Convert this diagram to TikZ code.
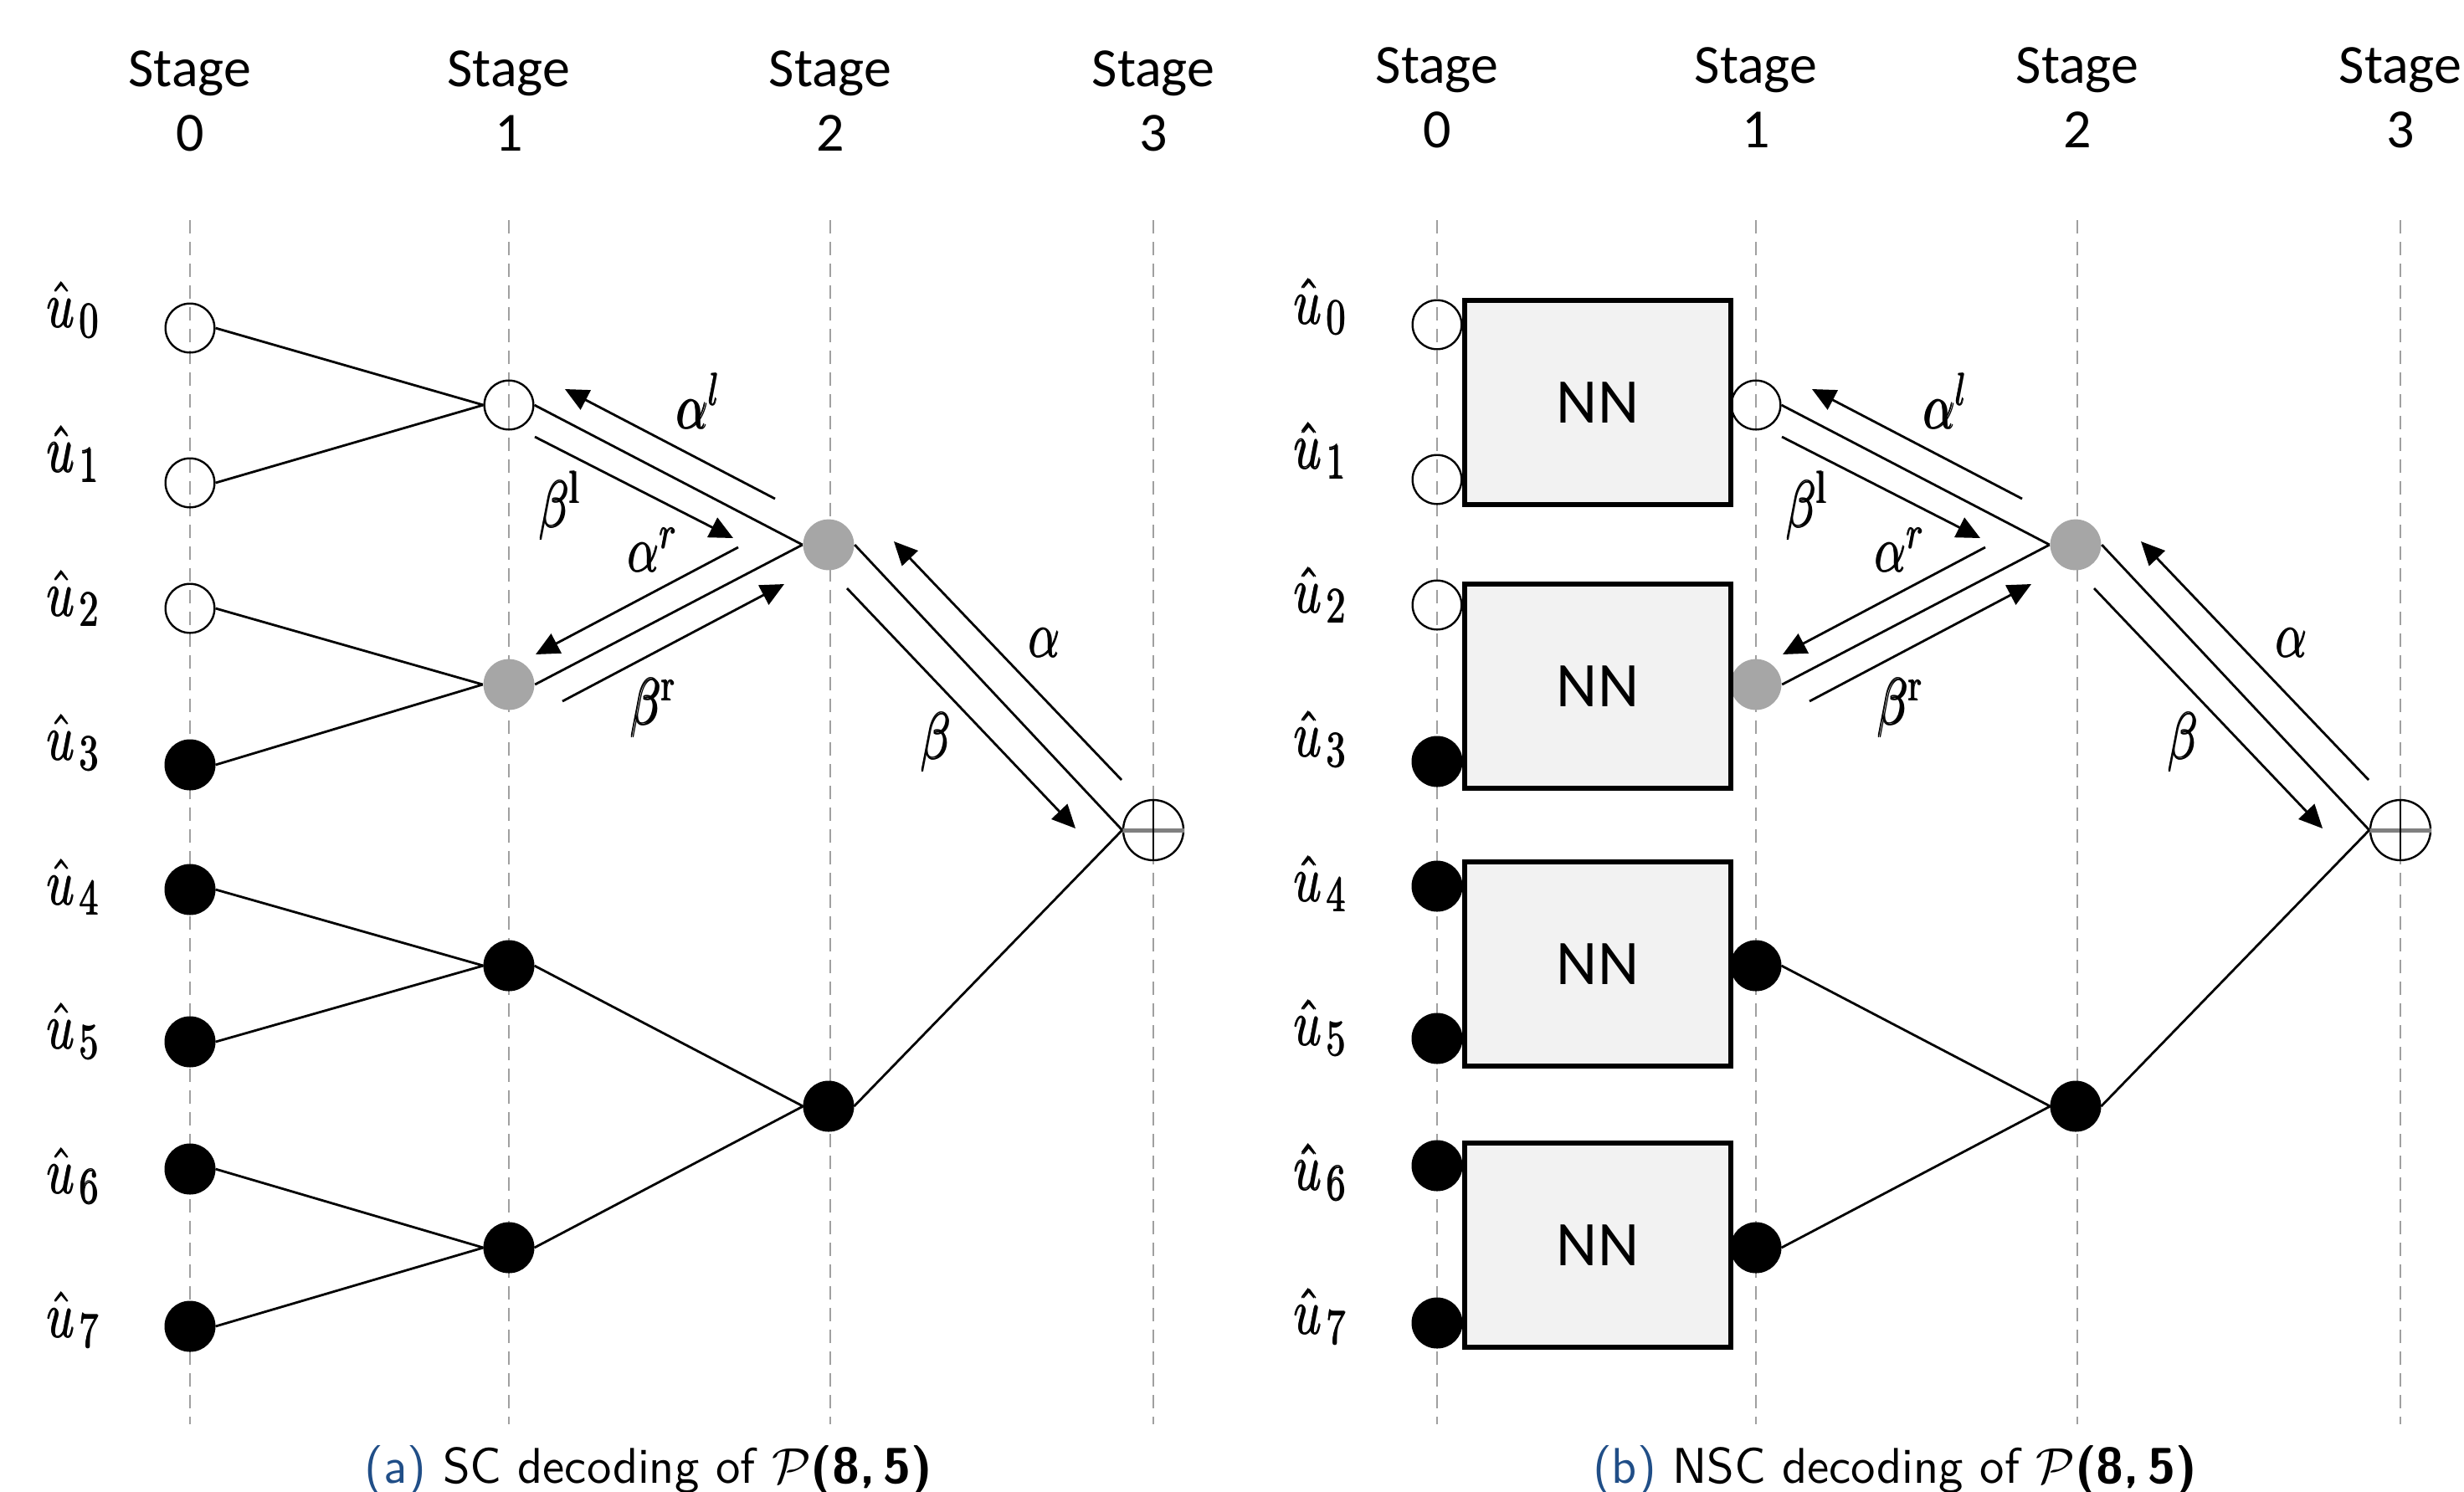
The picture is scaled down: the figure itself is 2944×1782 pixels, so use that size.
\RequirePackage{fix-cm}
\documentclass[tikz,border=0pt]{standalone}
\usepackage{fontspec}
\usepackage{graphicx}
\newfontfamily\stagefont{Carlito}
\usetikzlibrary{arrows.meta}
\definecolor{capblue}{RGB}{32,78,135}
\definecolor{nodegray}{RGB}{166,166,166}
\definecolor{dashgray}{RGB}{160,160,160}
\definecolor{boxfill}{RGB}{242,242,242}
\definecolor{opgray}{RGB}{128,128,128}
\tikzset{
  stageline/.style={draw=dashgray, line width=0.5pt, dash pattern=on 4pt off 2.5pt},
  stagetxt/.style={anchor=base, inner sep=0pt, font=\stagefont\fontsize{16.5}{20}\selectfont},
  ulab/.style={inner sep=0pt, font=\fontsize{15}{18}\selectfont},
  glab/.style={inner sep=0pt, font=\fontsize{15}{18}\selectfont},
  vnode/.style={circle, draw=black, line width=0.6pt, minimum size=14.65pt, inner sep=0pt},
  wnode/.style={vnode},
  bnode/.style={vnode, fill=black},
  gnode/.style={circle, fill=nodegray, minimum size=15.2pt, inner sep=0pt},
  edge/.style={draw=black, line width=0.7pt},
  msg/.style={draw=black, line width=0.7pt, -{Triangle[length=7pt,width=6.5pt]}},
  nnbox/.style={draw=black, fill=boxfill, line width=1.6pt, minimum width=79.5pt, minimum height=61pt, inner sep=0pt, font=\stagefont\fontsize{19}{22}\selectfont},
  opnode/.style={circle, draw=black, line width=0.6pt, minimum size=18pt, inner sep=0pt},
  capnode/.style={anchor=base, inner sep=0pt, font=\sffamily\fontsize{15}{18}\selectfont},
}
\newsavebox\fbbox
\newcommand\fb[1]{\sbox\fbbox{#1}\rlap{\usebox\fbbox}\rlap{\raisebox{0.3pt}{\usebox\fbbox}}\hspace{0.3pt}\usebox\fbbox}
\newcommand\ml[1]{\fb{\scalebox{1}[1.3]{$#1$}}}
\newcommand\sub[1]{\kern1.5pt\scalebox{1.1}{$\scriptstyle #1$}}
\newcommand\panel[1]{%
  \foreach \x in {227,608,992,1378} {\draw[stageline] (\x,263) -- (\x,1702);}
  \foreach \i/\x in {0/227,1/608,2/992,3/1378} {
    \node[stagetxt] (stage\i) at (\x,103#1) {Stage};
    \node[stagetxt] (num\i) at (\x,180#1) {\i};
  }
  \foreach \n in {0,...,7} {\node[ulab] (ul\n) at (88,{370+172.4*\n#1}) {\ml{\hat{u}_{\sub{\n}}}};}
  \foreach \n/\y/\s in {0/392/wnode,1/577/wnode,2/727/wnode,3/914/bnode,4/1063/bnode,5/1245/bnode,6/1397/bnode,7/1585/bnode}
    {\node[\s] (u\n) at (227,\y#1) {};}
  \node[wnode] (s1a) at (608,484) {};
  \node[gnode] (s1b) at (608,818) {};
  \node[bnode] (s1c) at (608,1154) {};
  \node[bnode] (s1d) at (608,1491) {};
  \node[gnode] (s2a) at (990,651) {};
  \node[bnode] (s2b) at (990,1322) {};
  \node[opnode] (op) at (1378,992) {};
  \draw[opgray, line width=1.25pt] (op.west) -- (op.east);
  \draw[black, line width=0.6pt] (op.north) -- (op.south);
  \draw[edge] (s1a.east) -- (s2a.west);
  \draw[edge] (s1b.east) -- (s2a.west);
  \draw[edge] (s1c.east) -- (s2b.west);
  \draw[edge] (s1d.east) -- (s2b.west);
  \draw[edge] (s2a.east) -- (op.west);
  \draw[edge] (s2b.east) -- (op.west);
  \coordinate (al1) at (926,596); \coordinate (al2) at (675,465);
  \coordinate (bl1) at (639,522); \coordinate (bl2) at (876,643);
  \coordinate (ar1) at (882,654); \coordinate (ar2) at (640,782);
  \coordinate (br1) at (672,838); \coordinate (br2) at (937,698);
  \coordinate (a1) at (1340,932); \coordinate (a2) at (1068,647);
  \coordinate (b1) at (1012,703); \coordinate (b2) at (1285,990);
  \draw[msg] (al1) -- (al2);
  \draw[msg] (bl1) -- (bl2);
  \draw[msg] (ar1) -- (ar2);
  \draw[msg] (br1) -- (br2);
  \draw[msg] (a1) -- (a2);
  \draw[msg] (b1) -- (b2);
  \node[glab] (lal) at (835,479) {\ml{\alpha^{l}}};
  \node[glab] (lbl) at (669,604) {\ml{\beta^{\mathrm{l}}}};
  \node[glab] (lar) at (780,657) {\ml{\alpha^{r}}};
  \node[glab] (lbr) at (781,846) {\ml{\beta^{\mathrm{r}}}};
  \node[glab] (la) at (1248,768) {\ml{\alpha}};
  \node[glab] (lb) at (1118,887) {\ml{\beta}};
}
\begin{document}
\begin{tikzpicture}[x=0.25pt,y=-0.25pt]
\useasboundingbox (0,0) rectangle (2944,1782);
\begin{scope}[name prefix=L-]
  \panel{+0}
  \foreach \a/\b in {u0/s1a,u1/s1a,u2/s1b,u3/s1b,u4/s1c,u5/s1c,u6/s1d,u7/s1d}
    {\draw[edge] (\a.east) -- (\b.west);}
  \node[capnode] (cap) at (775,1772) {{\color{capblue}(a)} SC decoding of $\mathcal{P}$\textbf{(8,\,5)}};
\end{scope}
\begin{scope}[name prefix=R-, xshift=372.5pt]
  \panel{-4}
  \foreach \k/\y in {1/481,2/820,3/1152,4/1488}
    {\node[nnbox] (nn\k) at (419,\y) {NN};}
  \node[capnode] (cap) at (774,1772) {{\color{capblue}(b)} NSC decoding of $\mathcal{P}$\textbf{(8,\,5)}};
\end{scope}
\end{tikzpicture}
\end{document}
